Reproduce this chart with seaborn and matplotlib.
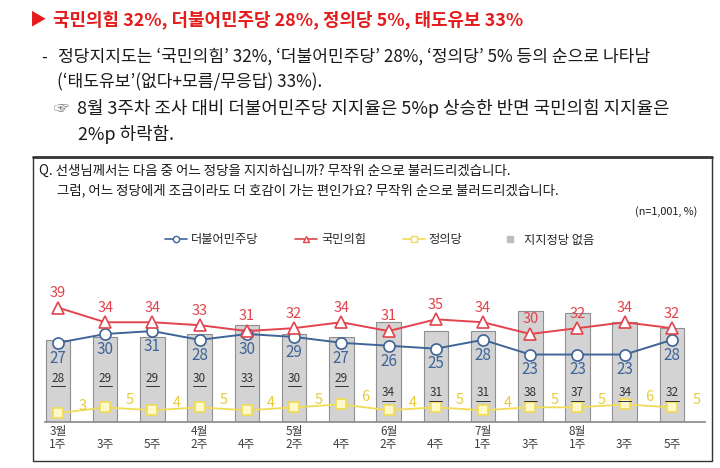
import numpy as np
import pandas as pd
import matplotlib
matplotlib.use('Agg')
import matplotlib.pyplot as plt
import seaborn as sns
from matplotlib.lines import Line2D

# 데이터
weeks = ['3월\n1주', '\n3주', '\n5주', '4월\n2주', '\n4주', '5월\n2주', '\n4주',
         '6월\n2주', '\n4주', '7월\n1주', '\n3주', '8월\n1주', '\n3주', '\n5주']
minjoo = [27, 30, 31, 28, 30, 29, 27, 26, 25, 28, 23, 23, 23, 28]   # 더불어민주당
ppp = [39, 34, 34, 33, 31, 32, 34, 31, 35, 34, 30, 32, 34, 32]      # 국민의힘
justice = [3, 5, 4, 5, 4, 5, 6, 4, 5, 4, 5, 5, 6, 5]                # 정의당
no_party = [28, 29, 29, 30, 33, 30, 29, 34, 31, 31, 38, 37, 34, 32]  # 지지정당 없음

blue = '#3f6497'
red = '#e2434c'
yellow = '#f1dc55'
ylab = '#e6cc3c'

sns.set_theme(style='white')
plt.rcParams['font.family'] = ['Noto Sans CJK KR', 'DejaVu Sans']
plt.rcParams['axes.unicode_minus'] = False

W, H = 720, 468
fig = plt.figure(figsize=(7.2, 4.68), dpi=100)
fig.patch.set_facecolor('white')

def fx(x):
    return x / W

def fy(y):
    return 1 - y / H

# 제목 / 본문
fig.text(fx(30), fy(20), '▶', color='#e31b1b', fontsize=12, va='center', ha='left')
fig.text(fx(53), fy(20), '국민의힘 32%, 더불어민주당 28%, 정의당 5%, 태도유보 33%',
         color='#e31b1b', fontsize=12.9, fontweight='bold', va='center', ha='left')
fig.text(fx(41), fy(57), '-', color='#1a1a1a', fontsize=12, va='center')
fig.text(fx(58), fy(57), '정당지지도는 ‘국민의힘’ 32%, ‘더불어민주당’ 28%, ‘정의당’ 5% 등의 순으로 나타남',
         color='#1a1a1a', fontsize=12.3, va='center')
fig.text(fx(57), fy(82), '(‘태도유보’(없다+모름/무응답) 33%).', color='#1a1a1a', fontsize=12.3, va='center')
fig.text(fx(54), fy(108), '☞', color='#777777', fontsize=11, va='center')
fig.text(fx(77), fy(108), '8월 3주차 조사 대비 더불어민주당 지지율은 5%p 상승한 반면 국민의힘 지지율은',
         color='#1a1a1a', fontsize=12.9, va='center')
fig.text(fx(78), fy(134), '2%p 하락함.', color='#1a1a1a', fontsize=12.9, va='center')

# 박스
fig.add_artist(Line2D([fx(33), fx(712)], [fy(157), fy(157)], color='#333333', lw=2))
fig.add_artist(Line2D([fx(33), fx(33), fx(712), fx(712)], [fy(157), fy(461), fy(461), fy(157)],
                      color='#333333', lw=1))

fig.text(fx(39), fy(171), 'Q. 선생님께서는 다음 중 어느 정당을 지지하십니까? 무작위 순으로 불러드리겠습니다.',
         color='#1a1a1a', fontsize=9.7, va='center')
fig.text(fx(57), fy(190), '그럼, 어느 정당에게 조금이라도 더 호감이 가는 편인가요? 무작위 순으로 불러드리겠습니다.',
         color='#1a1a1a', fontsize=9.7, va='center')
fig.text(fx(697), fy(212), '(n=1,001, %)', color='#1a1a1a', fontsize=7.8, va='center', ha='right')

# 차트
ax = fig.add_axes([fx(45), 1 - 422 / H, 660 / W, 132 / H])
df = pd.DataFrame({'pos': range(len(weeks)), 'minjoo': minjoo, 'ppp': ppp,
                   'justice': justice, 'none': no_party})

sns.barplot(data=df, x='pos', y='none', color='#d3d3d3', edgecolor='#8f8f8f',
            linewidth=0.8, width=0.52, saturation=1, ax=ax)
sns.lineplot(data=df, x='pos', y='justice', color=yellow, lw=1.3, marker='s', markersize=7,
             markerfacecolor='#fff8c8', markeredgecolor=yellow, markeredgewidth=1.2, ax=ax)
sns.lineplot(data=df, x='pos', y='minjoo', color=blue, lw=1.4, marker='o', markersize=8,
             markerfacecolor='white', markeredgecolor=blue, markeredgewidth=1.2, ax=ax)
sns.lineplot(data=df, x='pos', y='ppp', color=red, lw=1.4, marker='^', markersize=8,
             markerfacecolor='white', markeredgecolor=red, markeredgewidth=1.2, ax=ax)

for i in range(len(weeks)):
    ax.annotate(str(ppp[i]), (i, ppp[i]), xytext=(0, 10.5), textcoords='offset points',
                ha='center', va='center', color=red, fontsize=10.5)
    ax.annotate(str(minjoo[i]), (i, minjoo[i]), xytext=(0, -11), textcoords='offset points',
                ha='center', va='center', color=blue, fontsize=11)
    ax.annotate(str(justice[i]), (i, justice[i]), xytext=(17.5, 5), textcoords='offset points',
                ha='center', va='center', color=ylab, fontsize=10.5)
    ly = 15 if i < 7 else 10
    ax.text(i, ly, str(no_party[i]), ha='center', va='center', color='#333333',
            fontsize=8.5, style='italic')
    ax.plot([i - 0.14, i + 0.14], [ly - 2.8, ly - 2.8], color='#333333', lw=0.7)

ax.set_xlim(-0.275, 13.7)
ax.set_ylim(0, 45)
ax.set_xticks(range(len(weeks)))
ax.set_xticklabels(weeks, fontsize=8.5, color='#404040', linespacing=1.0)
ax.tick_params(axis='x', length=0, pad=2)
ax.set_yticks([])
ax.set_xlabel('')
ax.set_ylabel('')
for s in ['left', 'top', 'right']:
    ax.spines[s].set_visible(False)
ax.spines['bottom'].set_color('#8c8c8c')
ax.set_facecolor('none')

handles = [
    Line2D([], [], color=blue, marker='o', markersize=4.5, markerfacecolor='white', lw=1.2),
    Line2D([], [], color=red, marker='^', markersize=4.5, markerfacecolor='white', lw=1.2),
    Line2D([], [], color=yellow, marker='s', markersize=4.5, markerfacecolor='white', lw=1.2),
    Line2D([], [], color='#bdbdbd', marker='s', markersize=5, lw=0),
]
fig.legend(handles, ['더불어민주당', '국민의힘', '정의당', '지지정당 없음'],
           loc='center', bbox_to_anchor=(fx(380), fy(240)), ncol=4, frameon=False,
           fontsize=8.8, handlelength=1.8, handletextpad=0.3, columnspacing=3.0)

fig.savefig('out.png', dpi=100, facecolor='white')
